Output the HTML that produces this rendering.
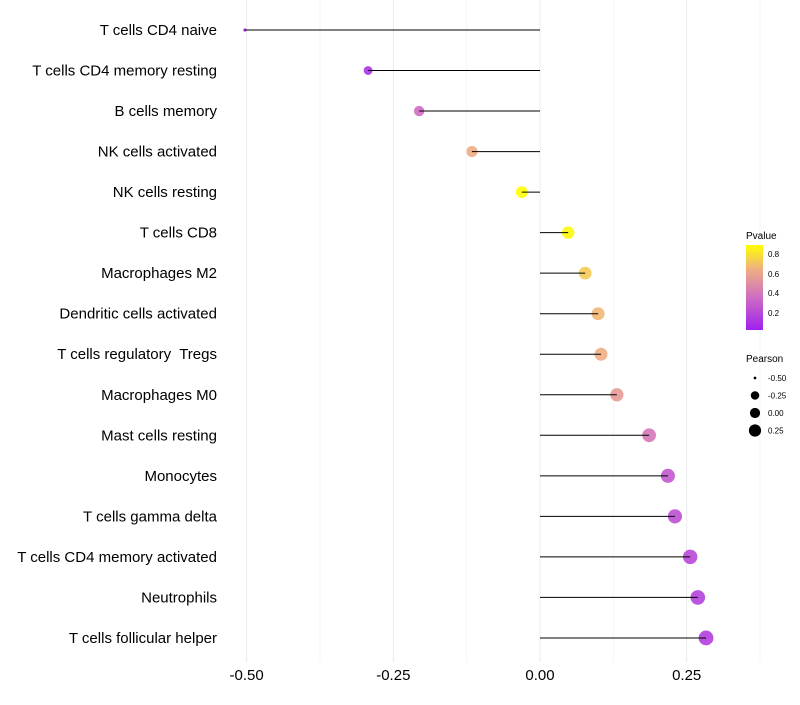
<!DOCTYPE html>
<html><head><meta charset="utf-8"><style>
body{margin:0;background:#fff}
svg text{font-family:"Liberation Sans",sans-serif;white-space:pre}
</style></head><body>
<svg id="chart" width="800" height="700" viewBox="0 0 800 700" xmlns="http://www.w3.org/2000/svg">
<defs><linearGradient id="pg" x1="0" y1="1" x2="0" y2="0">
<stop offset="0" stop-color="#a020f0"/><stop offset="0.4" stop-color="#d070c0"/><stop offset="0.72" stop-color="#f0b080"/><stop offset="1" stop-color="#ffff00"/></linearGradient></defs>
<g id="grid"></g>
<g id="marks"></g>
<g id="labels"></g>
<g id="xaxis"></g>
<g>
<text x="746" y="239" font-size="10" fill="#000">Pvalue</text>
<rect x="746" y="245" width="17" height="85" fill="url(#pg)"/>
<text x="768" y="257" font-size="8">0.8</text>
<text x="768" y="277" font-size="8">0.6</text>
<text x="768" y="296" font-size="8">0.4</text>
<text x="768" y="316" font-size="8">0.2</text>
</g>
<g id="sizeleg">
<text x="746" y="362" font-size="10">Pearson</text>
</g>
</svg>
<script>
const cats=["T cells CD4 naive","T cells CD4 memory resting","B cells memory","NK cells activated","NK cells resting","T cells CD8","Macrophages M2","Dendritic cells activated","T cells regulatory  Tregs","Macrophages M0","Mast cells resting","Monocytes","T cells gamma delta","T cells CD4 memory activated","Neutrophils","T cells follicular helper"];
const pearson=[-0.503,-0.293,-0.206,-0.116,-0.031,0.048,0.077,0.099,0.104,0.131,0.186,0.218,0.230,0.256,0.269,0.283];
const pvals=[0.02,0.1,0.35,0.62,0.88,0.86,0.72,0.66,0.63,0.55,0.4,0.26,0.23,0.19,0.16,0.15];
const xticks=[-0.5,-0.25,0,0.25];
const xtickLabels=["-0.50","-0.25","0.00","0.25"];
const ns="http://www.w3.org/2000/svg";
const X=v=>540+v*586.7;
const Y=i=>30+i*40.53;
const rk=[[-0.51,1.5],[-0.25,5],[0,6],[0.25,7.2],[0.35,7.8]];
function R(v){for(let k=1;k<rk.length;k++){if(v<=rk[k][0]){const a=rk[k-1],b=rk[k];return a[1]+(b[1]-a[1])*(v-a[0])/(b[0]-a[0]);}}return 7.8;}
function col(p){const t=Math.max(0,Math.min(1,(p-0.02)/0.86));
const st=[[0,[160,32,240]],[0.4,[208,112,192]],[0.72,[240,176,128]],[1,[255,255,0]]];
for(let k=1;k<st.length;k++){if(t<=st[k][0]){const a=st[k-1],b=st[k],f=(t-a[0])/(b[0]-a[0]);
return "rgb("+a[1].map((c,j)=>Math.round(c+(b[1][j]-c)*f)).join(",")+")";}}return "rgb(255,255,0)";}
function mk(tag,at,parent){const e=document.createElementNS(ns,tag);for(const k in at)e.setAttribute(k,at[k]);document.getElementById(parent).appendChild(e);return e;}
for(let v=-0.5;v<=0.376;v+=0.125){const g=mk("line",{x1:X(v),x2:X(v),y1:0,y2:662,stroke:Math.abs((v*4)%1)<1e-6?"#ebebeb":"#f4f4f4","stroke-width":1},"grid");

}
cats.forEach((c,i)=>{
const p=mk("circle",{cx:X(pearson[i]),cy:Y(i),r:R(pearson[i]),fill:col(pvals[i]),"fill-opacity":0.9},"marks");


const l=mk("line",{x1:X(0),x2:X(pearson[i]),y1:Y(i),y2:Y(i),stroke:"#000","stroke-width":1},"marks");


const t=mk("text",{x:217,y:Y(i)+5,"text-anchor":"end","font-size":15,fill:"#000"},"labels");
t.textContent=c;


});
xticks.forEach((v,i)=>{const t=mk("text",{x:X(v),y:680,"text-anchor":"middle","font-size":15,fill:"#000"},"xaxis");
t.textContent=xtickLabels[i];

});
const sz=[-0.5,-0.25,0,0.25],szl=["-0.50","-0.25","0.00","0.25"];
sz.forEach((v,i)=>{const y=378+i*17.5;
const c=mk("circle",{cx:755,cy:y,r:R(v)*0.85,fill:"#000"},"sizeleg");


const t=mk("text",{x:768,y:y+3,"font-size":8},"sizeleg");t.textContent=szl[i];

});
</script>
</body></html>
